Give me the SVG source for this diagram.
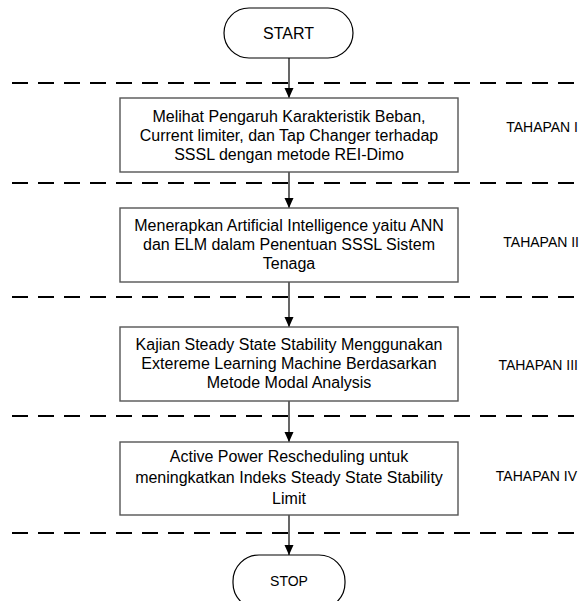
<svg xmlns="http://www.w3.org/2000/svg" width="581" height="601" viewBox="0 0 581 601">
  <style>
    .term { fill: #fff; stroke: #000; stroke-width: 1.2; }
    .box { fill: #fff; stroke: #555; stroke-width: 1.4; }
    .sep { stroke: #000; stroke-width: 2; stroke-dasharray: 16 10; fill: none; }
    .flow { stroke: #000; stroke-width: 1.2; fill: none; marker-end: url(#arrow); }
    text { font-family: "Liberation Sans", Arial, sans-serif; fill: #000; text-anchor: middle; }
    .t { font-size: 16px; }
    .lbl { font-size: 14px; text-anchor: end; }
  </style>
  <defs>
    <marker id="arrow" viewBox="0 0 10 14" refX="10" refY="7" markerWidth="10" markerHeight="14" markerUnits="userSpaceOnUse" orient="auto">
      <path d="M0,2.5 L10,7 L0,11.5 Z" fill="#000"/>
    </marker>
  </defs>

  <!-- stage separators -->
  <g id="separators">
    <line class="sep" x1="12" y1="83" x2="574" y2="83"/>
    <line class="sep" x1="12" y1="183" x2="574" y2="183"/>
    <line class="sep" x1="12" y1="297" x2="574" y2="297"/>
    <line class="sep" x1="12" y1="416" x2="574" y2="416"/>
    <line class="sep" x1="12" y1="533" x2="574" y2="533"/>
  </g>

  <!-- connectors -->
  <g id="connectors">
    <line class="flow" x1="289" y1="58" x2="289" y2="98"/>
    <line class="flow" x1="289" y1="172" x2="289" y2="208"/>
    <line class="flow" x1="289" y1="282" x2="289" y2="327"/>
    <line class="flow" x1="289" y1="401" x2="289" y2="442"/>
    <line class="flow" x1="289" y1="515" x2="289" y2="555"/>
  </g>

  <g id="start">
    <rect class="term" x="224" y="8" width="129" height="50" rx="25"/>
    <text x="288.5" y="39" font-size="16">START</text>
  </g>

  <g id="step1">
    <rect class="box" x="120" y="98" width="338" height="74"/>
    <text class="t" x="289" y="122">Melihat Pengaruh Karakteristik Beban,</text>
    <text class="t" x="289" y="141">Current limiter, dan Tap Changer terhadap</text>
    <text class="t" x="289" y="160">SSSL dengan metode REI-Dimo</text>
  </g>

  <g id="step2">
    <rect class="box" x="120" y="208" width="338" height="74"/>
    <text class="t" x="289" y="231">Menerapkan Artificial Intelligence yaitu ANN</text>
    <text class="t" x="289" y="250">dan ELM dalam Penentuan SSSL Sistem</text>
    <text class="t" x="289" y="269">Tenaga</text>
  </g>

  <g id="step3">
    <rect class="box" x="120" y="327" width="338" height="74"/>
    <text class="t" x="289" y="350">Kajian Steady State Stability Menggunakan</text>
    <text class="t" x="289" y="369">Extereme Learning Machine Berdasarkan</text>
    <text class="t" x="289" y="388">Metode Modal Analysis</text>
  </g>

  <g id="step4">
    <rect class="box" x="120" y="442" width="338" height="73"/>
    <text class="t" x="289" y="462">Active Power Rescheduling untuk</text>
    <text class="t" x="289" y="483">meningkatkan Indeks Steady State Stability</text>
    <text class="t" x="289" y="504">Limit</text>
  </g>

  <g id="stop">
    <rect class="term" x="233" y="555" width="112" height="54" rx="26"/>
    <text x="289" y="586" font-size="14">STOP</text>
  </g>

  <g id="stage-labels">
    <text class="lbl" x="578" y="132">TAHAPAN I</text>
    <text class="lbl" x="579" y="247">TAHAPAN II</text>
    <text class="lbl" x="578" y="370">TAHAPAN III</text>
    <text class="lbl" x="577" y="481">TAHAPAN IV</text>
  </g>
</svg>
